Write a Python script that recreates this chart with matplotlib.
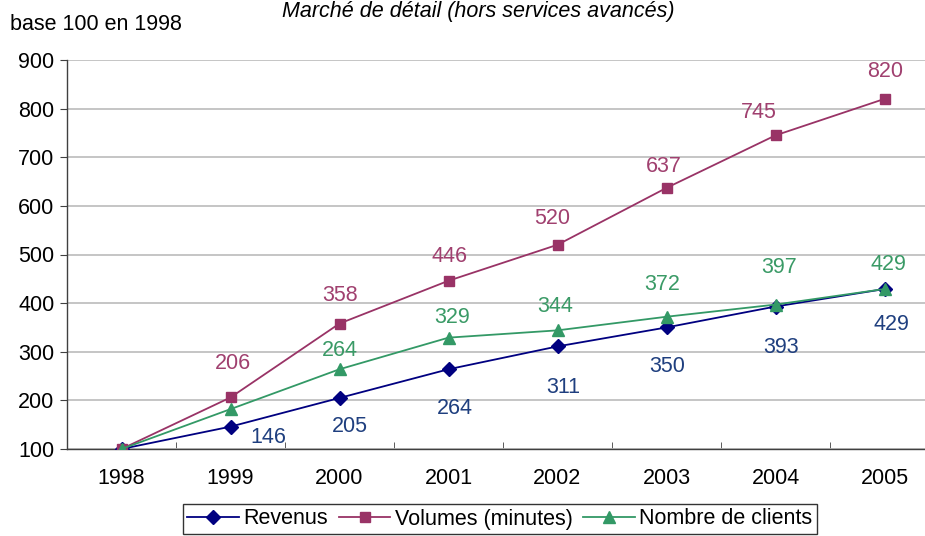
import matplotlib
matplotlib.use("Agg")
import matplotlib.pyplot as plt

years = ["1998", "1999", "2000", "2001", "2002", "2003", "2004", "2005"]
revenus = [100, 146, 205, 264, 311, 350, 393, 429]
volumes = [100, 206, 358, 446, 520, 637, 745, 820]
clients = [100, 182, 264, 329, 344, 372, 397, 429]
clients_labels = [None, None, 264, 329, 344, 372, 397, 429]
revenus_labels = [None, 146, 205, 264, 311, 350, 393, 429]
volumes_labels = [None, 206, 358, 446, 520, 637, 745, 820]

# label placement offsets in pixels (dx, dy up)
vol_off = [None, (2, 36), (1, 31), (1, 27), (-5, 29), (-3, 24), (-17, 25), (1, 30)]
cli_off = [None, None, (0, 21), (4, 23), (-2, 26), (-4, 35), (4, 40), (4, 27)]
rev_off = [None, (38, -8), (10, -26), (6, -37), (6, -39), (1, -37), (6, -38), (7, -33)]

plt.rcParams['font.family'] = ['Liberation Sans', 'DejaVu Sans']

fig = plt.figure(figsize=(9.25, 5.36), dpi=100)
W, H = 925, 536
left, right, top, bottom = 67, 939, 60, 449
ax = fig.add_axes([left / W, 1 - bottom / H, (right - left) / W, (bottom - top) / H])

x = list(range(len(years)))
c_rev, c_vol, c_cli = "#000080", "#993366", "#339966"
lc_rev, lc_vol, lc_cli = "#1F3F7F", "#A0406F", "#3A9A66"

ax.plot(x, revenus, color=c_rev, marker="D", markersize=7, lw=1.3, label="Revenus", zorder=3)
ax.plot(x, volumes, color=c_vol, marker="s", markersize=7, lw=1.3, label="Volumes (minutes)", zorder=3)
ax.plot(x, clients, color=c_cli, marker="^", markersize=9, lw=1.3, label="Nombre de clients", zorder=4)

fs = 15.5

def put(labels, vals, offs, col):
    for i, v in enumerate(labels):
        if v is not None:
            dx, dy = offs[i]
            ax.annotate(str(v), (i, vals[i]), xytext=(dx, dy), textcoords="offset pixels",
                        ha="center", va="center_baseline", color=col, fontsize=fs)

put(volumes_labels, volumes, vol_off, lc_vol)
put(clients_labels, clients, cli_off, lc_cli)
put(revenus_labels, revenus, rev_off, lc_rev)

ax.set_xlim(-0.5, 7.5)
ax.set_ylim(100, 900)
ax.set_yticks(range(100, 901, 100))
ax.set_xticks(x)
ax.set_xticklabels(years)
ax.set_xticks([i - 0.5 for i in range(len(years) + 1)], minor=True)
ax.tick_params(axis="x", which="major", length=0, labelsize=fs, pad=14)
ax.tick_params(axis="x", which="minor", length=5, direction="in", color="#404040")
ax.tick_params(axis="y", length=5, direction="out", labelsize=fs, color="#404040", pad=4)
ax.grid(axis="y", color="#C0C0C0", lw=1.3)
ax.set_axisbelow(True)
for s in ["top", "right"]:
    ax.spines[s].set_visible(False)
for s in ["left", "bottom"]:
    ax.spines[s].set_color("#404040")
    ax.spines[s].set_linewidth(1)

fig.text(478 / W, 1 - 1 / H, "Marché de détail (hors services avancés)", ha="center", va="top",
         fontsize=fs, style="italic")
fig.text(10 / W, 1 - 24 / H, "base 100 en 1998", ha="left", va="center", fontsize=fs)

leg = fig.legend(loc="center", bbox_to_anchor=(500 / W, 1 - 519 / H), ncol=3, frameon=True,
                 fontsize=fs, fancybox=False, edgecolor="black", handlelength=2.4,
                 columnspacing=0.5, handletextpad=0.2, borderpad=0.2, borderaxespad=0)
leg.get_frame().set_linewidth(1)

fig.savefig("out.png", dpi=100)
